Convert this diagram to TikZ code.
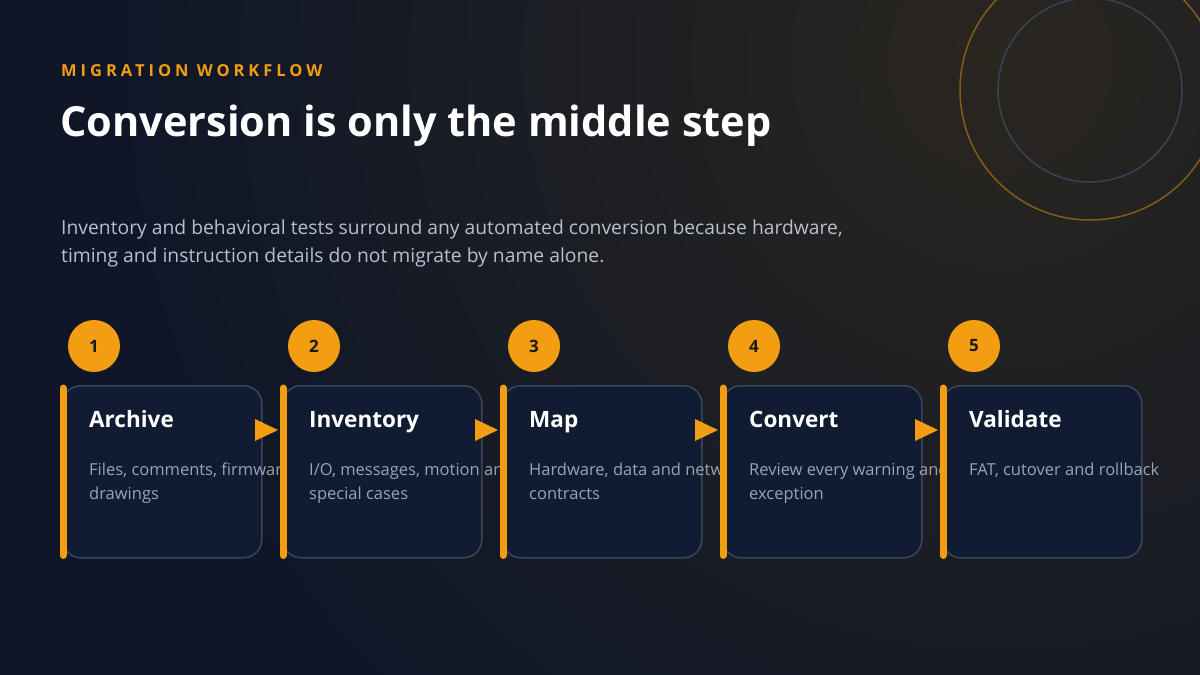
\documentclass[tikz,border=0pt]{standalone}
\usepackage{fontspec}
\setmainfont{Open Sans}
\begin{document}
\begin{tikzpicture}[x=1pt,y=-1pt,
  box/.style={draw=boxline,line width=1.5pt,fill=boxfill,rounded corners=18pt},
  bar/.style={line width=7pt,draw=org,line cap=round},
  num/.style={circle,fill=org,minimum size=52pt,inner sep=0pt,font=\fontsize{17}{17}\selectfont\bfseries,text=black!90},
  ttl/.style={anchor=base west,inner sep=0pt,font=\fontsize{22.5}{22}\selectfont\bfseries,text=white},
  dsc/.style={anchor=north west,inner sep=0pt,align=left,font=\fontsize{16.5}{24}\selectfont,text=desc},
  tri/.style={fill=org}]
\definecolor{bg}{HTML}{0E1628}
\definecolor{bgw}{HTML}{2A2620}
\definecolor{org}{HTML}{F29D12}
\definecolor{boxfill}{HTML}{111B32}
\definecolor{boxline}{HTML}{3A465C}
\definecolor{desc}{HTML}{9AA4B4}
\definecolor{para}{HTML}{B8C0CC}
\useasboundingbox (0,0) rectangle (1200,675);
\fill[bg] (0,0) rectangle (1200,675);
\shade[inner color=bgw,outer color=bg] (1000,60) circle (900);
\draw[org!45!bgw,line width=1.5pt] (1090,90) circle (130);
\draw[boxline!90!bgw,line width=1.5pt] (1090,90) circle (92);
\node[anchor=base west,inner sep=0pt,text=org,font=\fontsize{16.5}{16}\selectfont\bfseries] (kick) at (61,76) {\addfontfeatures{LetterSpace=24}MIGRATION WORKFLOW};
\node[anchor=base west,inner sep=0pt,text=white,font=\fontsize{41.5}{40}\selectfont\bfseries] (head) at (60,136) {Conversion is only the middle step};
\node[anchor=north west,inner sep=0pt,align=left,text=para,font=\fontsize{19.3}{28}\selectfont] (sub) at (61,220) {Inventory and behavioral tests surround any automated conversion because hardware,\\timing and instruction details do not migrate by name alone.};
\foreach \i/\t/\d [count=\k] in {0/Archive/{Files, comments, firmware and\\drawings},1/Inventory/{I/O, messages, motion and\\special cases},2/Map/{Hardware, data and network\\contracts},3/Convert/{Review every warning and\\exception},4/Validate/{FAT, cutover and rollback}}{
  \pgfmathsetmacro{\x}{62+220*\i}
  \node[box,minimum width=199pt,minimum height=172pt,anchor=north west] (b\k) at (\x,385) {};
  \draw[bar] ([xshift=1pt,yshift=-3pt]b\k.north west) -- ([xshift=1pt,yshift=3pt]b\k.south west);
  \node[num] (n\k) at (\x+32,346) {\k};
  \node[ttl] (t\k) at (\x+27,427) {\t};
  \node[dsc] (d\k) at (\x+27,463) {\d};
  \ifnum\k<5
    \coordinate (a\k) at (\x+193,430);
    \fill[tri] ([shift={(0,-11)}]a\k) -- ([shift={(0,11)}]a\k) -- ([shift={(23,0)}]a\k) -- cycle;
  \fi
}
\end{tikzpicture}
\end{document}
